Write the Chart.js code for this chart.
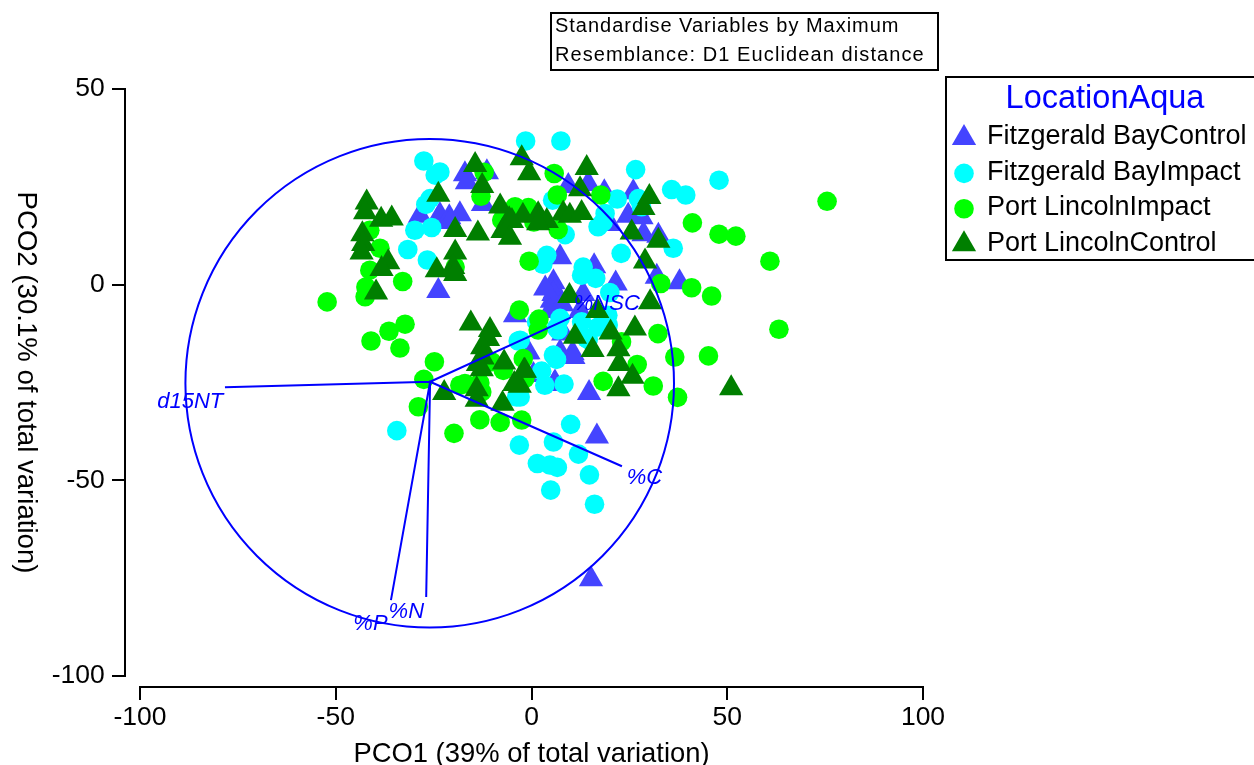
<!DOCTYPE html>
<html>
<head>
<meta charset="utf-8">
<style>html,body{margin:0;padding:0;background:#fff;overflow:hidden}canvas{display:block}</style>
<script src="https://cdn.jsdelivr.net/npm/chart.js@4/dist/chart.umd.js"></script>
</head>
<body>
<canvas id="c" width="1254" height="765"></canvas>
<script>
const fbControlX = [-17,-11.4,-16.5,-12.4,-28.5,-23.4,-21,-18.3,-20.8,-23.8,9.4,14.5,18.6,26,24.7,28.1,28.6,32.4,20,7.3,16,21.5,32,37.8,5.6,6,5.2,13.2,5.6,4.7,12.4,8.1,10.5,-1.2,6,14.7,-4.2,-0.8,0.5,5.8,7.3,10.7,16.7,15.2,3.5,7.8];
const fbControlY = [28.2,28.7,26.2,20.6,17.6,17.8,17.2,18,16,-1.6,25.2,25.7,23.6,23.6,17.6,17.2,12.9,12.5,15.5,7,4.7,0.3,2,0.6,0.6,-1.6,-4.1,-2.4,-2.4,-6.7,-6.7,-12.5,-17.5,-17.3,-25,-27.7,-7.8,-17.3,-23.1,-25.4,-17.3,-18.5,-38.8,-75.3,-1,-5];
const fbImpactX = [-27.5,-24.6,-23.4,-25.9,-27,-29.8,-25.5,-31.6,-26.6,-1.5,7.5,26.6,35.8,39.4,47.9,21.9,27.3,28.1,5.4,8.6,17,18.3,18.8,36.2,22.9,3.9,2.9,13.2,12.8,16.4,20,19.6,19.5,12.8,7.3,6.8,14.5,6.4,5.6,3.4,8.3,2.6,-2.9,-2.9,-3.4,-3.8,-3.1,5.6,10,12,1.3,6.4,17,14,-34.4,1.5,4.7,6.6,14.8,4.9,16.1];
const fbImpactY = [31.6,28,28.8,22,20.5,13.9,14.6,9,6.3,36.7,36.7,29.4,24.3,22.9,26.7,21.9,22,19.9,21.6,12.8,14.8,16,18.2,9.3,8,7.5,5.2,4.5,2.4,1.6,-2,-10.3,-7.8,-9.5,-8.6,-11.6,-14,-19.1,-18,-25.7,-25.4,-22.1,-28.7,-14.2,-14.4,-28.7,-41,-40.2,-35.7,-43.3,-9.5,-11,-10.8,-13.7,-37.3,-45.7,-46.1,-46.7,-48.6,-52.5,-56.1];
const plImpactX = [-12.9,-12.1,-4.2,-7.6,-41.3,-38.7,-41.3,-42.3,-42.5,-32.9,-52.2,-19.5,-0.6,-3.1,5.8,6.6,17.7,-0.8,6.8,41.1,0.6,33,40.9,46,47.9,52.2,60.9,63.2,75.5,32.3,36.6,45.2,37.3,31.1,18.3,27,23,1.9,1.7,-2.1,-24.8,-27.5,-28.9,-19.8,-13.2,-8,-2.5,-18.3,-17,-12.7,-13.2,-7.2,-10.2,-1.7,-33.6,-32.3,-36.4,-41];
const plImpactY = [22.6,28.7,19.9,16.5,13.9,9.3,3.7,-0.6,-3.1,0.8,-4.4,4.5,6,-6.5,28.4,22.9,22.9,19.7,14.1,15.8,16,0.3,-0.8,-2.9,12.9,12.4,6,-11.4,21.3,-12.5,-18.5,-18.2,-28.8,-25.9,-24.7,-20.4,-14.6,-8.8,-11.6,-18.9,-19.7,-24.2,-31.2,-38,-34.5,-35.2,-34.6,-25.7,-25.3,-27.4,-25.1,-21.9,-19.7,-24,-16.2,-10.1,-11.9,-14.4];
const plControlX = [-42.1,-42.5,-38.4,-35.7,-43.2,-43,-43.4,-36.6,-38.3,-39.7,-23.8,-19.5,-13.7,-19.5,-24.2,-20,-19.5,-14.4,-12.6,-8,-5.7,-7.4,-2.5,-0.6,14.1,12.4,30.1,28.6,25.6,32.4,29,30.3,-2.2,1.7,3.9,1.7,8.1,9.8,12.8,9.7,16.8,-5,-5.5,26.4,20.2,11.1,15.6,22.2,22.4,25.8,22.2,-1.7,-3,-15.5,-10.6,-11.1,-12.6,-12.5,-12.7,-7,-1.9,-4.4,-14,-14,-22.3,-7.4,-13.7,51];
const plControlY = [21,18.5,16.6,16.9,12.9,10.4,8.2,5.7,4,-2,23,14,13.1,8.2,3.7,4.5,2.7,30.6,25.2,20,16.7,13.7,32.3,28.5,29.8,24.4,22.4,19.6,13.3,11.2,5.9,-4.5,17.6,18,16.3,15.7,18.2,17.6,18.3,-2.9,-6.7,16.3,12,-11.2,-12.2,-13.3,-16.7,-16.5,-20.3,-23.5,-26.7,-22,-25.8,-9.9,-11.6,-13.9,-16,-18.6,-21.6,-19.9,-22,-25.4,-26.7,-29.4,-27.7,-30.4,-20.3,-26.5];

const seriesLabels = ['Fitzgerald BayControl','Fitzgerald BayImpact','Port LincolnImpact','Port LincolnControl'];
const seriesColors = ['#4444FF','#00FFFF','#00FF00','#007F00'];
const seriesStyles = ['triangle','circle','circle','triangle'];
const seriesX = [fbControlX,fbImpactX,plImpactX,plControlX];
const seriesY = [fbControlY,fbImpactY,plImpactY,plControlY];

const vectorLabels = ['d15NT','%NSC','%C','%N','%P'];
const vectorEndX = [-78.3,10,23.1,-26.9,-35.9];
const vectorEndY = [-26.2,-8.4,-46.4,-79.8,-80.6];
const vectorOrigin = [-25.9,-24.8];
const circleCentre = [-26,-25.2];
const circleRadius = 62.4;
const vectorLabelX = [-95.6,10.8,24.3,-36.5,-45.5];
const vectorLabelY = [-29.9,-4.8,-49.4,-83.6,-86.7];

const xTitle = 'PCO1 (39% of total variation)';
const yTitle = 'PCO2 (30.1% of total variation)';
const legendTitle = 'LocationAqua';
const noteLines = ['Standardise Variables by Maximum','Resemblance: D1 Euclidean distance'];

const FONT = '"Liberation Sans", Arial, sans-serif';
const TRI_R = 14, CIRC_R = 9.8;
const datasets = seriesLabels.map((label,i)=>({
  label,
  data: seriesX[i].map((x,j)=>({x,y:seriesY[i][j]})),
  backgroundColor: seriesColors[i],
  borderColor: seriesColors[i],
  borderWidth: 0,
  pointStyle: seriesStyles[i],
  pointRadius: seriesStyles[i]==='triangle' ? TRI_R : CIRC_R,
  pointHoverRadius: seriesStyles[i]==='triangle' ? TRI_R : CIRC_R,
  order: 4-i
}));
const vectorPath = [];
vectorEndX.forEach((x,i)=>{
  vectorPath.push({x:vectorOrigin[0],y:vectorOrigin[1]});
  vectorPath.push({x,y:vectorEndY[i]});
});
datasets.push({
  label:'Vectors',
  data:vectorPath,
  showLine:true,
  borderColor:'#0000FF',
  borderWidth:2,
  pointRadius:0,
  order:0
});

const overlay = {
  id:'overlay',
  afterDatasetsDraw(chart){
    const {ctx,scales:{x,y}} = chart;
    ctx.save();
    ctx.strokeStyle='#0000FF';
    ctx.lineWidth=2;
    ctx.beginPath();
    ctx.arc(x.getPixelForValue(circleCentre[0]),y.getPixelForValue(circleCentre[1]),
      x.getPixelForValue(circleCentre[0]+circleRadius)-x.getPixelForValue(circleCentre[0]),0,Math.PI*2);
    ctx.stroke();
    ctx.fillStyle='#0000FF';
    ctx.font='italic 22px '+FONT;
    ctx.textAlign='left';
    ctx.textBaseline='middle';
    vectorLabels.forEach((t,i)=>ctx.fillText(t,x.getPixelForValue(vectorLabelX[i]),y.getPixelForValue(vectorLabelY[i])));
    ctx.lineWidth=2;
    ctx.strokeStyle='#000';
    ctx.fillStyle='#fff';
    ctx.fillRect(551,13,387,57);
    ctx.strokeRect(551,13,387,57);
    ctx.fillStyle='#000';
    ctx.font='20px '+FONT;
    noteLines.forEach((t,i)=>{
      ctx.letterSpacing=(i===0?0.98:1.1)+'px';
      ctx.fillText(t,555,26+i*29);
    });
    ctx.letterSpacing='0px';
    ctx.strokeRect(946,77,320,183);
    ctx.fillStyle='#0000FF';
    ctx.font='32.5px '+FONT;
    ctx.textAlign='center';
    ctx.fillText(legendTitle,1105,99);
    ctx.textAlign='left';
    ctx.font='27px '+FONT;
    seriesLabels.forEach((t,i)=>{
      ctx.fillStyle=seriesColors[i];
      Chart.helpers.drawPoint(ctx,{pointStyle:seriesStyles[i],rotation:0,radius:seriesStyles[i]==='triangle'?TRI_R:CIRC_R,borderWidth:0},964,138+i*35.4);
      ctx.fillStyle='#000';
      ctx.fillText(t,987,136.2+i*35.9);
    });
    ctx.restore();
  }
};

new Chart(document.getElementById('c'),{
  type:'scatter',
  data:{datasets},
  plugins:[overlay],
  options:{
    responsive:false,
    animation:false,
    layout:{padding:{left:140,right:331,top:89,bottom:89}},
    plugins:{legend:{display:false},tooltip:{enabled:false}},
    elements:{line:{tension:0}},
    scales:{
      x:{
        type:'linear',min:-100,max:100,
        position:{y:-102.8},
        grid:{drawOnChartArea:false,drawTicks:true,tickLength:12,color:'#000',lineWidth:2},
        border:{display:true,color:'#000',width:2},
        ticks:{stepSize:50,color:'#000',font:{family:FONT,size:26.5},padding:3,maxRotation:0,autoSkip:false,callback:v=>String(v)},
        title:{display:true,text:xTitle,color:'#000',font:{family:FONT,size:27.4},padding:{top:1,bottom:0}}
      },
      y:{
        type:'linear',min:-100,max:50,
        position:{x:-103.9},
        grid:{drawOnChartArea:false,drawTicks:true,tickLength:12,color:'#000',lineWidth:2},
        border:{display:true,color:'#000',width:2},
        ticks:{display:false,stepSize:50}
      },
      yLabels:{
        axis:'y',
        type:'linear',min:-100,max:50,
        position:{x:-109},
        grid:{display:false},
        border:{display:false},
        ticks:{stepSize:50,color:'#000',font:{family:FONT,size:26.5},padding:0,autoSkip:false,callback:v=>String(v)},
        title:{display:true,text:yTitle,color:'#000',font:{family:FONT,size:27.6},padding:{top:2,bottom:0}}
      }
    }
  }
});
</script>
</body>
</html>
